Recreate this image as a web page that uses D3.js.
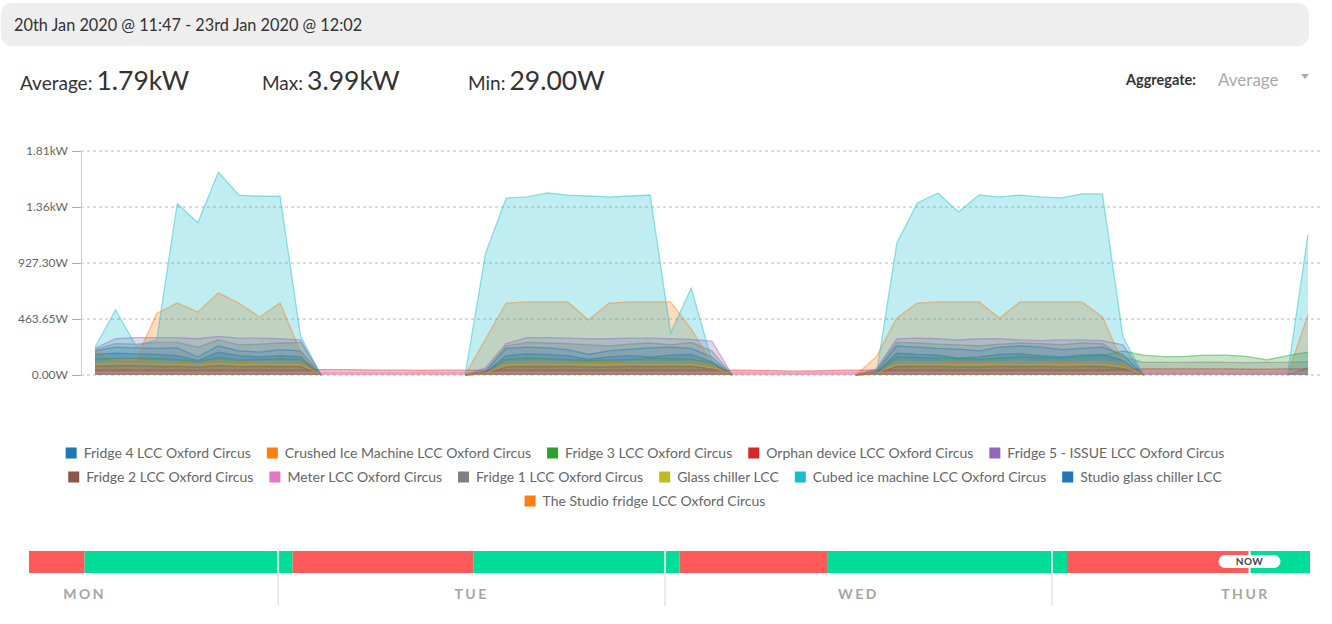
<!DOCTYPE html>
<html><head><meta charset="utf-8">
<script src="https://cdn.jsdelivr.net/npm/d3@7"></script>
<style>
body{margin:0;background:#fff;}
svg text{font-family:Lato,"Open Sans",sans-serif;}
</style></head><body>
<svg id="c" width="1332" height="624"></svg>
<script>
// ---------- text ----------
const headerText = "20th Jan 2020 @ 11:47 - 23rd Jan 2020 @ 12:02";
const statLabels = ["Average:", "Max:", "Min:"];
const statValues = ["1.79kW", "3.99kW", "29.00W"];
const aggregateLabel = "Aggregate:";
const aggregateValue = "Average";

// ---------- axes ----------
const yTickValues = [0, 463.65, 927.3, 1390.95, 1854.6];
const yTickLabels = ["0.00W", "463.65W", "927.30W", "1.36kW", "1.81kW"];
const xTickLabels = ["Mon 12:23:07", "Tue 06:08:48", "Tue 23:54:30", "Wed 17:40:11", "Thu 11:25:52"];
const xTickTimes = [new Date(2020,0,20,12,23,7), new Date(2020,0,21,6,8,48), new Date(2020,0,21,23,54,30), new Date(2020,0,22,17,40,11), new Date(2020,0,23,11,25,52)];
const sampleCount = 60;

// ---------- series (W), 60 samples each ----------
const seriesNames = ["Fridge 4 LCC Oxford Circus","Crushed Ice Machine LCC Oxford Circus","Fridge 3 LCC Oxford Circus","Orphan device LCC Oxford Circus","Fridge 5 - ISSUE LCC Oxford Circus","Fridge 2 LCC Oxford Circus","Meter LCC Oxford Circus","Fridge 1 LCC Oxford Circus","Glass chiller LCC","Cubed ice machine LCC Oxford Circus","Studio glass chiller LCC","The Studio fridge LCC Oxford Circus"];

const fridge4 = [200,230,225,220,225,150,240,200,190,210,200,0, 0,0,0,0,0,0,
  0,30,220,230,225,210,170,200,215,225,230,220,150,0, 0,0,0,0,0,
  0,30,240,230,220,215,200,230,240,230,210,220,230,170,0, 0,0,0,0,0,0,0,0];
const crushedIce = [200,120,130,510,596,522,680,596,480,596,190,0, 0,0,0,0,0,0,
  0,300,596,605,605,605,455,596,605,605,605,380,100,0, 0,0,0,0,0,
  0,150,472,596,605,605,605,472,605,605,605,605,480,100,0, 0,0,0,0,0,0,0,500];
const fridge3 = [130,140,140,135,130,110,145,125,130,135,130,0, 0,0,0,0,0,0,
  0,20,130,140,135,130,120,125,130,140,135,130,100,0, 0,0,0,0,0,
  0,20,150,145,140,135,130,140,150,145,140,150,160,200,165, 152,155,165,165,155,125,160,190];
const orphanDevice = [40,40,40,40,40,40,40,40,40,40,40,45, 44,42,40,40,38,40,
  40,40,40,40,40,40,40,40,40,40,40,40,40,40, 38,36,32,34,38,
  40,40,40,40,40,40,40,40,40,40,40,40,40,45,50, 50,50,50,50,48,48,50,50];
const fridge5 = [220,300,310,310,310,300,320,305,305,300,290,0, 0,0,0,0,0,0,
  0,60,260,310,310,305,300,300,305,305,300,295,280,0, 0,0,0,0,0,
  0,50,300,305,300,290,300,300,290,285,290,290,285,250,0, 0,0,0,0,0,0,0,0];
const fridge2 = [70,75,75,70,70,65,75,70,70,70,70,0, 0,0,0,0,0,0,
  0,10,65,70,70,70,65,65,70,70,70,70,50,0, 0,0,0,0,0,
  0,10,70,70,70,65,65,70,70,70,65,70,70,50,0, 0,0,0,0,0,0,0,60];
const meter = [20,20,22,20,20,18,20,20,22,20,20,20, 20,20,18,18,20,20,
  20,20,20,22,20,20,20,20,22,20,20,20,20,20, 20,18,16,18,20,
  20,20,20,20,22,20,20,20,20,22,20,20,20,20,20, 20,20,20,20,20,20,20,20];
const fridge1 = [210,260,255,270,270,230,290,250,255,265,270,0, 0,0,0,0,0,0,
  0,40,240,270,265,260,250,240,255,265,250,270,200,0, 0,0,0,0,0,
  0,40,270,265,255,250,240,255,265,260,250,265,260,150,105, 105,104,106,105,103,105,104,110];
const glassChiller = [90,95,95,90,90,80,95,85,90,90,85,0, 0,0,0,0,0,0,
  0,10,85,90,90,90,85,85,90,90,90,90,60,0, 0,0,0,0,0,
  0,10,90,90,90,85,85,90,90,90,85,90,90,70,0, 0,0,0,0,0,0,0,0];
const cubedIce = [230,540,240,290,1420,1260,1680,1490,1480,1480,320,0, 0,0,0,0,0,0,
  0,1010,1465,1474,1507,1490,1482,1474,1482,1490,350,720,120,0, 0,0,0,0,0,
  0,0,1093,1424,1507,1350,1490,1474,1490,1474,1466,1500,1500,315,0, 0,0,0,0,0,0,0,1165];
const studioGlassChiller = [170,180,175,170,160,120,190,160,150,160,150,0, 0,0,0,0,0,0,
  0,20,160,175,170,160,130,150,160,150,165,170,110,0, 0,0,0,0,0,
  0,20,180,170,165,140,150,170,175,160,150,165,170,120,0, 0,0,0,0,0,0,0,0];
const studioFridge = [110,115,120,115,110,95,120,105,110,115,110,0, 0,0,0,0,0,0,
  0,15,110,115,115,110,100,105,110,115,110,115,80,0, 0,0,0,0,0,
  0,15,115,110,110,105,100,110,115,110,105,110,115,90,0, 0,0,0,0,0,0,0,0];

const seriesValues = [fridge4, crushedIce, fridge3, orphanDevice, fridge5, fridge2, meter, fridge1, glassChiller, cubedIce, studioGlassChiller, studioFridge];

// ---------- timeline (hours from Mon 00:00) ----------
const dayNames = ["MON", "TUE", "WED", "THUR"];
const dayStartHours = [0, 24, 48, 72];
const statusStart = [8.55, 12, 24.9, 36.1, 48.9, 58.05, 72.93, 84.25];
const statusEnd   = [12, 24.9, 36.1, 48.9, 58.05, 72.93, 84.25, 88];
const statusState = ["off", "on", "off", "on", "off", "on", "off", "on"];
const nowHour = 84.25;

// ================= drawing =================
const svg = d3.select("#c");
const colors = d3.schemeCategory10;

// header
svg.append("rect").attr("x",1).attr("y",3).attr("width",1308).attr("height",43).attr("rx",11).attr("fill","#eeeeee");
svg.append("text").attr("x",14).attr("y",31).attr("font-size",16.3).attr("fill","#333").text(headerText);

// stats
const statX = [20, 262, 468];
statLabels.forEach((l,i)=>{
  const t = svg.append("text").attr("x",statX[i]).attr("y",90).attr("fill","#333");
  t.append("tspan").attr("font-size",19).text(l);
  t.append("tspan").attr("dx",4).attr("font-size",26.5).text(statValues[i]);
});
svg.append("text").attr("x",1126).attr("y",85).attr("font-size",14.5).attr("font-weight","bold").attr("fill","#333").text(aggregateLabel);
svg.append("text").attr("x",1218).attr("y",86).attr("font-size",17).attr("fill","#aaa").text(aggregateValue);
svg.append("path").attr("d","M1301,74L1309,74L1305,79Z").attr("fill","#aaa");

// scales
const t0 = xTickTimes[0], t1 = xTickTimes[xTickTimes.length-1];
const times = d3.range(sampleCount).map(i => new Date(+t0 + i*(t1 - t0)/(sampleCount-1)));
const x = d3.scaleTime().domain([t0, t1]).range([95, 1308]);
const y = d3.scaleLinear().domain([0, 1854.6]).range([375, 151]);

// grid
svg.append("g").selectAll("line").data(yTickValues).join("line")
  .attr("x1",81).attr("x2",1322).attr("y1",d=>y(d)).attr("y2",d=>y(d))
  .attr("stroke","#b8b8b8").attr("stroke-dasharray","3,3");

// areas
const area = d3.area().x((d,i)=>x(times[i])).y0(y(0)).y1(d=>y(d));
const line = d3.line().x((d,i)=>x(times[i])).y(d=>y(d))
  .defined((d,i,a)=> d>0 || (i>0 && a[i-1]>0) || (i<a.length-1 && a[i+1]>0));
const gA = svg.append("g");
seriesValues.forEach((vals,k)=>{
  gA.append("path").attr("d",area(vals)).attr("fill",colors[k%10]).attr("fill-opacity",0.27);
});
seriesValues.forEach((vals,k)=>{
  gA.append("path").attr("d",line(vals)).attr("fill","none").attr("stroke",colors[k%10]).attr("stroke-opacity",0.45).attr("stroke-width",1.3);
});

// y axis
const yAxis = svg.append("g").attr("transform","translate(81,0)")
  .call(d3.axisLeft(y).tickValues(yTickValues).tickFormat((d,i)=>yTickLabels[i]).tickSize(9).tickPadding(4).tickSizeOuter(0));
yAxis.select(".domain").attr("stroke","#ccc");
yAxis.selectAll(".tick line").attr("stroke","#aaa");
yAxis.selectAll("text").attr("font-size",12).attr("fill","#666").attr("font-family","Lato");

// x axis (the last label is cut at the chart's right edge, as in the reference)
svg.append("clipPath").attr("id","xclip").append("rect").attr("x",0).attr("y",360).attr("width",1322).attr("height",60);
const xAxis = svg.append("g").attr("transform","translate(0,375)").attr("clip-path","url(#xclip)")
  .call(d3.axisBottom(x).tickValues(xTickTimes).tickFormat((d,i)=>xTickLabels[i]).tickSize(8).tickPadding(3));
xAxis.select(".domain").attr("d",`M${x.range()[0]},6V0H1321V6`).attr("stroke","#ccc");
xAxis.selectAll(".tick line").attr("stroke","#999");
xAxis.selectAll("text").attr("font-size",12).attr("fill","#555").attr("font-family","Lato");

// legend
const legendFont = 14;
const items = seriesNames.map((n,k)=>{
  const t = svg.append("text").attr("font-size",legendFont).attr("fill","#666").text(n);
  const w = t.node().getComputedTextLength();
  return {n, k, t, w: 11 + 7 + w};
});
const rows = []; let cur = [], curW = 0; const maxW = 1230, gap = 16;
items.forEach(it=>{
  const add = (cur.length?gap:0) + it.w;
  if (curW + add > maxW && cur.length){ rows.push(cur); cur=[it]; curW=it.w; }
  else { cur.push(it); curW += add; }
});
rows.push(cur);
rows.forEach((r,ri)=>{
  const total = d3.sum(r,d=>d.w) + gap*(r.length-1);
  let xx = 645 - total/2;
  const cy = 453 + ri*24;
  r.forEach(it=>{
    svg.append("rect").attr("x",xx).attr("y",cy-5.5).attr("width",11).attr("height",11).attr("fill",colors[it.k%10]);
    it.t.attr("x",xx+18).attr("y",cy+5);
    xx += it.w + gap;
  });
});

// timeline
const tx = d3.scaleLinear().domain([8.55, 88]).range([29, 1310]);
const statusColor = {off:"#ff5a5a", on:"#00dd99"};
svg.append("g").selectAll("rect").data(statusStart).join("rect")
  .attr("x",(d)=>tx(d)).attr("width",(d,i)=>tx(statusEnd[i])-tx(d))
  .attr("y",551).attr("height",22).attr("fill",(d,i)=>statusColor[statusState[i]]);
dayStartHours.slice(1).forEach(h=>{
  svg.append("line").attr("x1",tx(h)).attr("x2",tx(h)).attr("y1",551).attr("y2",573).attr("stroke","#fff").attr("stroke-width",2).attr("stroke-opacity",0.8);
  svg.append("line").attr("x1",tx(h)).attr("x2",tx(h)).attr("y1",549).attr("y2",606).attr("stroke","#d8d8d8").attr("stroke-width",1);
});
dayNames.forEach((n,i)=>{
  svg.append("text").attr("x",tx(dayStartHours[i]+12)).attr("y",599).attr("text-anchor","middle")
    .attr("font-size",14).attr("font-weight","bold").attr("letter-spacing",2.5).attr("fill","#a5a5a5").text(n);
});
svg.append("line").attr("x1",tx(nowHour)).attr("x2",tx(nowHour)).attr("y1",551).attr("y2",573).attr("stroke","#fff").attr("stroke-width",2);
svg.append("rect").attr("x",tx(nowHour)-31).attr("y",555).attr("width",62).attr("height",13).attr("rx",6.5).attr("fill","#fff");
svg.append("text").attr("x",tx(nowHour)).attr("y",565).attr("text-anchor","middle").attr("font-size",10).attr("font-weight","bold").attr("letter-spacing",0.5).attr("fill","#444").text("NOW");
</script>
</body></html>
